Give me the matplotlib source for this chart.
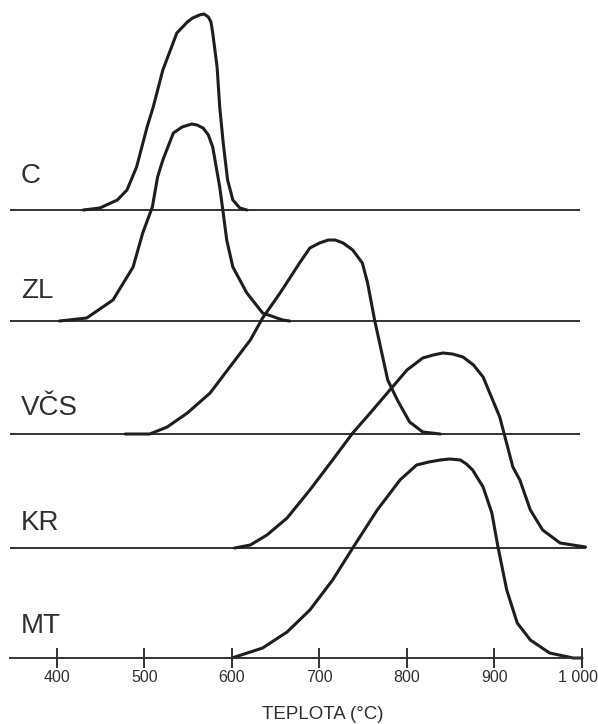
import matplotlib
matplotlib.use('Agg')
import matplotlib.pyplot as plt

plt.rcParams['font.family'] = ['Liberation Sans', 'DejaVu Sans']

# temperature (°C) and relative height above each baseline
c_t = [430, 449, 469, 480, 491, 503, 510, 521, 537, 549, 555, 563, 568, 573, 576, 578, 583, 586, 590, 595, 601, 609, 617]
c_h = [0, 2, 10, 20, 43, 83, 103, 140, 177, 188, 192, 195, 196, 193, 188, 177, 143, 103, 67, 30, 10, 2, 0]

zl_t = [403, 434, 464, 487, 498, 509, 515, 521, 533, 543, 554, 560, 567, 573, 578, 586, 590, 594, 601, 617, 635, 658, 666]
zl_h = [0, 3, 21, 54, 88, 114, 144, 161, 188, 194, 197, 196, 193, 186, 174, 134, 108, 81, 54, 28, 8, 1, 0]

vcs_t = [478, 506, 526, 549, 575, 601, 621, 635, 655, 678, 689, 700, 710, 718, 727, 738, 749, 755, 763, 778, 789, 803, 818, 838]
vcs_h = [0, 0, 7, 21, 41, 71, 94, 116, 141, 172, 186, 191, 194, 194, 191, 184, 171, 151, 114, 54, 34, 12, 2, 0]

kr_t = [603, 621, 640, 663, 689, 715, 738, 758, 800, 818, 830, 841, 852, 864, 876, 887, 906, 921, 929, 941, 955, 975, 1004]
kr_h = [0, 3, 13, 30, 58, 88, 115, 135, 178, 190, 193, 195, 194, 191, 183, 171, 131, 81, 68, 38, 18, 5, 1]

mt_t = [600, 635, 663, 689, 715, 738, 766, 792, 811, 825, 838, 849, 861, 868, 875, 887, 897, 904, 914, 926, 941, 963, 990, 1000]
mt_h = [0, 10, 26, 48, 78, 110, 148, 178, 193, 196, 198, 199, 198, 194, 188, 171, 145, 111, 68, 35, 18, 5, 0, 0]

names = ['C', 'ZL', 'VČS', 'KR', 'MT']
offsets = [448, 337, 224, 110, 0]
label_y = [475, 360, 243, 128, 25]
curves = [(c_t, c_h), (zl_t, zl_h), (vcs_t, vcs_h), (kr_t, kr_h), (mt_t, mt_h)]
base_end = [998, 998, 998, 1005, 1000]

ticks = [400, 500, 600, 700, 800, 900, 1000]
tick_labels = ['400', '500', '600', '700', '800', '900', '1 000']

fig = plt.figure(figsize=(5.98, 7.24), dpi=100)
ax = fig.add_axes([0, 0, 1, 1])
ax.set_xlim(334.9, 1018.3)
ax.set_ylim(-66, 658)

line_col = '#1e1e1e'
base_col = '#333333'
text_col = '#303030'

for name, off, ly, (t, h), be in zip(names, offsets, label_y, curves, base_end):
    if off > 0:
        ax.plot([346, be], [off, off], color=base_col, lw=1.4, solid_capstyle='butt')
    ax.plot(t, [v + off for v in h], color=line_col, lw=2.2,
            solid_joinstyle='round', solid_capstyle='round')
    ax.text(359, ly, name, fontsize=20, color=text_col, ha='left', va='baseline')

for s in ['top', 'right', 'left']:
    ax.spines[s].set_visible(False)
ax.spines['bottom'].set_position(('data', 0))
ax.spines['bottom'].set_bounds(346, 1000)
ax.spines['bottom'].set_color(base_col)
ax.spines['bottom'].set_linewidth(1.4)
ax.set_xticks(ticks)
ax.set_xticklabels(tick_labels)
ax.tick_params(axis='x', direction='inout', length=15, width=1.4, color=base_col,
               labelsize=11.5, labelcolor=text_col, pad=1)
ax.set_yticks([])
# keep the last label inside the picture
ax.get_xticklabels()[-1].set_horizontalalignment('right')
ax.get_xticklabels()[-1].set_x(1000)
for lab in ax.get_xticklabels()[-1:]:
    lab.set_transform(lab.get_transform() + matplotlib.transforms.ScaledTranslation(16 / 100, 0, fig.dpi_scale_trans))

fig.text(322.5 / 598, 5 / 724, 'TEPLOTA (°C)', fontsize=13.5, color=text_col,
         ha='center', va='baseline')

fig.savefig('out.png', dpi=100)
